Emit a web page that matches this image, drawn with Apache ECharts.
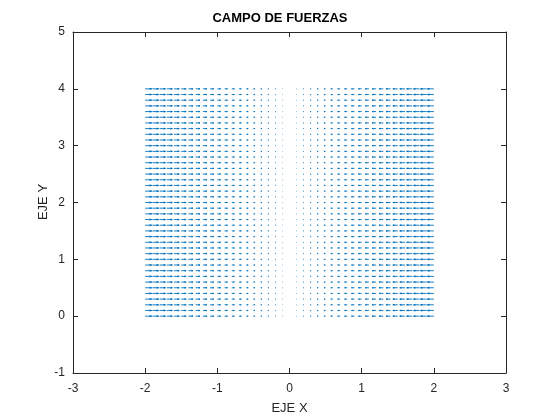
<!DOCTYPE html>
<html>
<head>
<meta charset="utf-8">
<script src="https://cdn.jsdelivr.net/npm/echarts@6/dist/echarts.min.js"></script>
<style>html,body{margin:0;padding:0;background:#fff;}#c{width:560px;height:420px;}</style>
</head>
<body>
<div id="c"></div>
<script>
// Grid of sample positions (x from -2 to 2, y from 0 to 4, step 0.1)
const xs = [-2.0,-1.9,-1.8,-1.7,-1.6,-1.5,-1.4,-1.3,-1.2,-1.1,-1.0,-0.9,-0.8,-0.7,-0.6,-0.5,-0.4,-0.3,-0.2,-0.1,0.0,0.1,0.2,0.3,0.4,0.5,0.6,0.7,0.8,0.9,1.0,1.1,1.2,1.3,1.4,1.5,1.6,1.7,1.8,1.9,2.0];
const ys = [0.0,0.1,0.2,0.3,0.4,0.5,0.6,0.7,0.8,0.9,1.0,1.1,1.2,1.3,1.4,1.5,1.6,1.7,1.8,1.9,2.0,2.1,2.2,2.3,2.4,2.5,2.6,2.7,2.8,2.9,3.0,3.1,3.2,3.3,3.4,3.5,3.6,3.7,3.8,3.9,4.0];
// Horizontal field component for each column (points toward x = 0); vertical component is 0
const uCol = [2.0,1.9,1.8,1.7,1.6,1.5,1.4,1.3,1.2,1.1,1.0,0.9,0.8,0.7,0.6,0.5,0.4,0.3,0.2,0.1,0.0,-0.1,-0.2,-0.3,-0.4,-0.5,-0.6,-0.7,-0.8,-0.9,-1.0,-1.1,-1.2,-1.3,-1.4,-1.5,-1.6,-1.7,-1.8,-1.9,-2.0];
const vCol = [0,0,0,0,0,0,0,0,0,0,0,0,0,0,0,0,0,0,0,0,0,0,0,0,0,0,0,0,0,0,0,0,0,0,0,0,0,0,0,0,0];
const xTicks = [-3,-2,-1,0,1,2,3];
const yTicks = [-1,0,1,2,3,4,5];

const data = [];
for (let j = 0; j < ys.length; j++) {
  for (let i = 0; i < xs.length; i++) {
    data.push([xs[i], ys[j], uCol[i], vCol[i]]);
  }
}
// quiver autoscale: longest arrow = 0.9 * grid spacing
const dx = 0.1, dy = 0.1;
let maxLen = 0;
for (let i = 0; i < uCol.length; i++) {
  maxLen = Math.max(maxLen, Math.hypot(uCol[i] / dx, vCol[i] / dy));
}
const sc = 0.9 / maxLen;
const alpha = 0.33, beta = 0.33;
const col = '#0072BD';
const txt = '#262626';
const font = 'Arial, "Liberation Sans", Helvetica, sans-serif';

const chart = echarts.init(document.getElementById('c'), null, {renderer: 'canvas'});
chart.setOption({
  animation: false,
  backgroundColor: '#ffffff',
  graphic: [
    {
      type: 'text', left: 'center', top: 12,
      style: {text: 'CAMPO DE FUERZAS', font: 'bold 13px ' + font, fill: '#000'}
    },
    {
      type: 'text', x: 43, y: 202, rotation: Math.PI / 2,
      style: {text: 'EJE Y', font: '13px ' + font, fill: txt, align: 'center', verticalAlign: 'middle'}
    }
  ],
  grid: {left: 73, right: 54, top: 32, bottom: 47, containLabel: false},
  xAxis: [
    {
      type: 'value', min: xTicks[0], max: xTicks[xTicks.length - 1], interval: 1, position: 'bottom',
      name: 'EJE X', nameLocation: 'middle', nameGap: 29,
      nameTextStyle: {fontFamily: font, fontSize: 13, color: txt},
      axisLine: {show: true, onZero: false, lineStyle: {color: txt, width: 1}},
      axisTick: {show: true, inside: true, length: 5, lineStyle: {color: txt}},
      axisLabel: {fontFamily: font, fontSize: 12, color: txt, margin: 10},
      splitLine: {show: false}
    },
    {
      type: 'value', min: xTicks[0], max: xTicks[xTicks.length - 1], interval: 1, position: 'top',
      axisLine: {show: true, onZero: false, lineStyle: {color: txt, width: 1}},
      axisTick: {show: true, inside: true, length: 5, lineStyle: {color: txt}},
      axisLabel: {show: false}, splitLine: {show: false}
    }
  ],
  yAxis: [
    {
      type: 'value', min: yTicks[0], max: yTicks[yTicks.length - 1], interval: 1, position: 'left',
      axisLine: {show: true, onZero: false, lineStyle: {color: txt, width: 1}},
      axisTick: {show: true, inside: true, length: 5, lineStyle: {color: txt}},
      axisLabel: {fontFamily: font, fontSize: 12, color: txt, margin: 8},
      splitLine: {show: false}
    },
    {
      type: 'value', min: yTicks[0], max: yTicks[yTicks.length - 1], interval: 1, position: 'right',
      axisLine: {show: true, onZero: false, lineStyle: {color: txt, width: 1}},
      axisTick: {show: true, inside: true, length: 5, lineStyle: {color: txt}},
      axisLabel: {show: false}, splitLine: {show: false}
    }
  ],
  series: [{
    type: 'custom',
    coordinateSystem: 'cartesian2d',
    xAxisIndex: 0, yAxisIndex: 0,
    data: data,
    renderItem: function (params, api) {
      const x = api.value(0), y = api.value(1);
      const u = api.value(2) * sc, v = api.value(3) * sc;
      const p0 = api.coord([x, y]);
      const p1 = api.coord([x + u, y + v]);
      const h1 = api.coord([x + u - alpha * (u + beta * (v + 1e-12)), y + v - alpha * (v - beta * (u + 1e-12))]);
      const h2 = api.coord([x + u - alpha * (u - beta * (v + 1e-12)), y + v - alpha * (v + beta * (u + 1e-12))]);
      const st = {stroke: col, lineWidth: 0.9, fill: null};
      return {
        type: 'group',
        children: [
          {type: 'polyline', shape: {points: [p0, p1]}, style: st},
          {type: 'polyline', shape: {points: [h1, p1, h2]}, style: st}
        ]
      };
    }
  }]
});
</script>
</body>
</html>
